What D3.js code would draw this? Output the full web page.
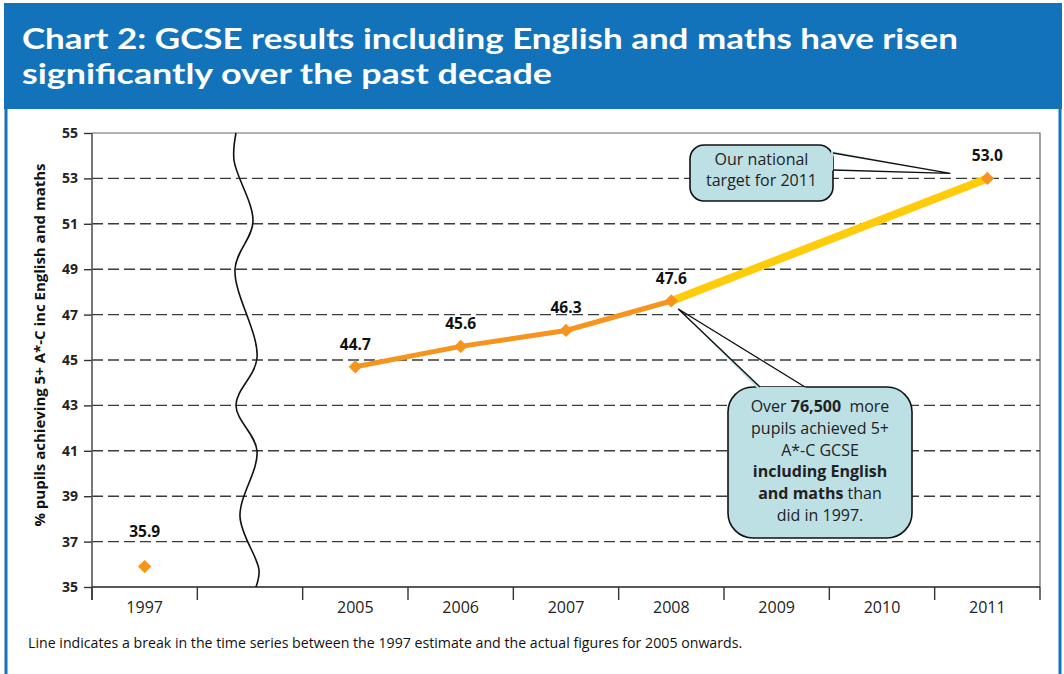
<!DOCTYPE html>
<html><head><meta charset="utf-8">
<script src="https://cdn.jsdelivr.net/npm/d3@7/dist/d3.min.js"></script>
<style>
html,body{margin:0;padding:0;background:#fff;}
svg{display:block;}
</style></head>
<body>
<svg id="c" width="1064" height="674"></svg>
<script>
// ---- data ----
const categories = ["1997", " ", "2005", "2006", "2007", "2008", "2009", "2010", "2011"];
const estimateYears = ["1997"];
const estimateValues = [35.9];
const actualYears = ["2005", "2006", "2007", "2008"];
const actualValues = [44.7, 45.6, 46.3, 47.6];
const targetYears = ["2008", "2011"];
const targetValues = [47.6, 53.0];
const yTicks = [35, 37, 39, 41, 43, 45, 47, 49, 51, 53, 55];
const titleLines = ["Chart 2: GCSE results including English and maths have risen", "significantly over the past decade"];
const yTitle = "% pupils achieving 5+ A*-C inc English and maths";
const footnote = "Line indicates a break in the time series between the 1997 estimate and the actual figures for 2005 onwards.";
// break-line wave: [value, horizontal offset from band centre]
const breakWave = [[55,-14],[53.8,-16],[51.1,3],[49,-15],[45.1,7],[43,-14],[41,7],[38.1,-10],[35.75,9],[35,6]];

const svg = d3.select("#c");
const BLUE = "#1273BA", ORANGE = "#F7941D", YELLOW = "#FFCC0A", BOX = "#BDE0E5";
const SANS = "'Open Sans', 'Noto Sans', sans-serif";

// frame
svg.append("rect").attr("x", 4).attr("y", 3).attr("width", 1058).attr("height", 106).attr("fill", BLUE);
svg.append("line").attr("x1", 6).attr("x2", 6).attr("y1", 108).attr("y2", 674).attr("stroke", BLUE).attr("stroke-width", 3);
svg.append("line").attr("x1", 1060).attr("x2", 1060).attr("y1", 108).attr("y2", 674).attr("stroke", BLUE).attr("stroke-width", 3);

// title
const tg = svg.append("g");
tg.append("text").attr("x", 22).attr("y", 49).attr("textLength", 936).text(titleLines[0]);
tg.append("text").attr("x", 22).attr("y", 84).attr("textLength", 530).text(titleLines[1]);
tg.selectAll("text").attr("fill", "#fff").attr("font-family", "Lato, 'Open Sans', sans-serif")
  .attr("font-weight", "bold").attr("font-size", 29).attr("lengthAdjust", "spacingAndGlyphs");

// scales
const x = d3.scaleBand().domain(categories).range([92, 1040]).padding(0);
const y = d3.scaleLinear().domain([35, 55]).range([587, 133]);
const cx = d => x(d) + x.bandwidth() / 2;

// plot frame (top + right)
svg.append("path").attr("d", `M92,${y(55)}H1040V${y(35)}`).attr("fill", "none").attr("stroke", "#666").attr("stroke-width", 1.2);

// grid
svg.append("g").selectAll("line").data(yTicks.filter(v => v > 35 && v < 55)).join("line")
  .attr("x1", 92).attr("x2", 1040).attr("y1", d => y(d)).attr("y2", d => y(d))
  .attr("stroke", "#3a3a3a").attr("stroke-width", 1.4).attr("stroke-dasharray", "11,5");

// y axis
const ya = svg.append("g").attr("transform", "translate(92,0)")
  .call(d3.axisLeft(y).tickValues(yTicks).tickSize(8).tickPadding(6).tickFormat(d3.format("d")));
ya.select(".domain").remove();
ya.selectAll(".tick line").attr("stroke", "#333").attr("stroke-width", 1.4);
ya.selectAll("text").attr("font-family", SANS).attr("font-weight", "bold").attr("font-size", 14).attr("fill", "#222");
svg.append("line").attr("x1", 92).attr("x2", 92).attr("y1", y(55)).attr("y2", 600).attr("stroke", "#555").attr("stroke-width", 1.6);

// x axis
const xa = svg.append("g").attr("transform", `translate(0,${y(35)})`)
  .call(d3.axisBottom(x).tickSize(0).tickPadding(15));
xa.select(".domain").remove();
xa.selectAll("text").attr("font-family", SANS).attr("font-size", 16).attr("fill", "#222");
svg.append("line").attr("x1", 92).attr("x2", 1040).attr("y1", y(35)).attr("y2", y(35)).attr("stroke", "#222").attr("stroke-width", 1.6);
svg.append("g").selectAll("line").data(categories.map(c => x(c)).concat([1040])).join("line")
  .attr("x1", d => d).attr("x2", d => d).attr("y1", y(35)).attr("y2", 600)
  .attr("stroke", "#333").attr("stroke-width", 1.4);

// break wave
svg.append("path")
  .datum(breakWave)
  .attr("d", d3.line().x(d => cx(" ") + d[1]).y(d => y(d[0])).curve(d3.curveCatmullRom.alpha(0.5)))
  .attr("fill", "none").attr("stroke", "#111").attr("stroke-width", 1.6);

// y title
svg.append("text").attr("transform", "translate(45,345) rotate(-90)").attr("text-anchor", "middle")
  .attr("font-family", SANS).attr("font-weight", "bold").attr("font-size", 15).attr("fill", "#111")
  .text(yTitle);

// lines
const line = d3.line().x(d => cx(d[0])).y(d => y(d[1]));
svg.append("path").datum(targetYears.map((c, i) => [c, targetValues[i]])).attr("d", line)
  .attr("fill", "none").attr("stroke", YELLOW).attr("stroke-width", 8);
svg.append("path").datum(actualYears.map((c, i) => [c, actualValues[i]])).attr("d", line)
  .attr("fill", "none").attr("stroke", ORANGE).attr("stroke-width", 5);

// markers
const pts = estimateYears.map((c, i) => [c, estimateValues[i]])
  .concat(actualYears.map((c, i) => [c, actualValues[i]]))
  .concat([[targetYears[1], targetValues[1]]]);
const sym = d3.symbol().type(d3.symbolSquare).size(88);
svg.append("g").selectAll("path").data(pts).join("path")
  .attr("transform", d => `translate(${cx(d[0])},${y(d[1])}) rotate(45)`).attr("d", sym).attr("fill", ORANGE);

// value labels
svg.append("g").selectAll("text").data(pts).join("text")
  .attr("x", d => cx(d[0])).attr("y", d => y(d[1]) - (d[0] === "1997" ? 30 : 17))
  .attr("text-anchor", "middle").attr("font-family", SANS).attr("font-weight", "bold")
  .attr("font-size", 15.5).attr("fill", "#111").text(d => d3.format(".1f")(d[1]));

// callouts
function callout(r, base, tip, lines) {
  const g = svg.append("g");
  g.append("rect").attr("x", r.x).attr("y", r.y).attr("width", r.w).attr("height", r.h).attr("rx", r.rx)
    .attr("fill", BOX).attr("stroke", "#111").attr("stroke-width", 1.6);
  g.append("path").attr("d", `M${base[0][0]},${base[0][1]}L${tip[0]},${tip[1]}L${base[1][0]},${base[1][1]}L${base[2][0]},${base[2][1]}L${base[3][0]},${base[3][1]}Z`)
    .attr("fill", BOX);
  g.append("path").attr("d", `M${base[1][0]},${base[1][1]}L${tip[0]},${tip[1]}L${base[2][0]},${base[2][1]}`)
    .attr("fill", "none").attr("stroke", "#111").attr("stroke-width", 1.4).attr("stroke-linejoin", "miter");
  const t = g.append("text").attr("text-anchor", "middle").attr("font-family", SANS).attr("font-size", 16)
    .attr("fill", "#222").style("white-space", "pre");
  lines.forEach((ln, i) => {
    const tx = t.append("tspan").attr("x", r.x + r.w / 2).attr("y", r.y + ln.dy);
    ln.parts.forEach(p => tx.append("tspan").attr("font-weight", p.b ? "bold" : null).text(p.t));
  });
}
// target callout (pointer on the right side)
const tipT = [cx("2011") - 37, y(53) - 5];
callout({x: 690, y: 145, w: 143, h: 56, rx: 14},
  [[831, 151], [833, 153], [833, 170], [831, 172]], tipT,
  [{dy: 20, parts: [{t: "Our national"}]}, {dy: 41, parts: [{t: "target for 2011"}]}]);
// 76,500 callout (pointer on top)
const tipB = [cx("2008") + 7, y(47.6) + 8];
callout({x: 728, y: 387, w: 184, h: 151, rx: 25},
  [[758, 389], [760, 387], [805, 387], [807, 389]], tipB,
  [{dy: 25, parts: [{t: "Over "}, {t: "76,500", b: true}, {t: "  more"}]},
   {dy: 47, parts: [{t: "pupils achieved 5+"}]},
   {dy: 69, parts: [{t: "A*-C GCSE"}]},
   {dy: 90, parts: [{t: "including English", b: true}]},
   {dy: 112, parts: [{t: "and maths", b: true}, {t: " than"}]},
   {dy: 134, parts: [{t: "did in 1997."}]}]);

// footnote
const fn = svg.append("text").attr("x", 28).attr("y", 648).attr("font-family", SANS).attr("font-size", 13)
  .attr("fill", "#111").text(footnote);
const fw = fn.node().getComputedTextLength();
fn.attr("font-size", 13 * 715 / fw);
</script>
</body></html>
